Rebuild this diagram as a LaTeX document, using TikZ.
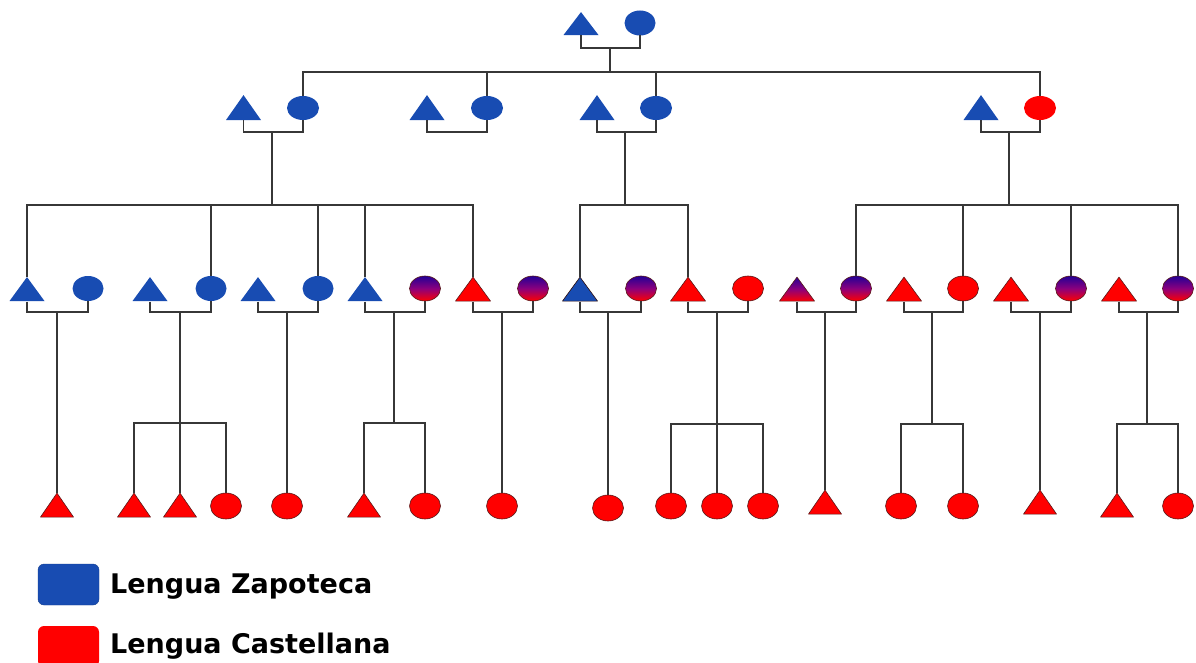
\documentclass[tikz,border=0pt]{standalone}
\usepackage{fontspec}
\newfontfamily\legendfont{DejaVu Sans}
\usetikzlibrary{shapes.geometric}
\definecolor{zblue}{RGB}{24,76,178}
\definecolor{cred}{RGB}{255,0,0}
\definecolor{edgec}{RGB}{90,25,25}
\definecolor{mtop}{RGB}{35,0,150}
\definecolor{mmid}{RGB}{140,0,125}
\definecolor{lnc}{RGB}{55,55,55}
\tikzset{
  ln/.style={draw=lnc, line width=1.3pt},
  tri/.style={minimum width=36pt, minimum height=25pt, inner sep=0pt, outer sep=0pt,
    path picture={\path[#1, line join=round]
      ([xshift=.5pt,yshift=.45pt]path picture bounding box.south west) --
      ([xshift=-.5pt,yshift=.45pt]path picture bounding box.south east) --
      ([yshift=-.6pt]path picture bounding box.north) -- cycle;}},
  bt/.style={tri=#1, minimum width=34pt, minimum height=25pt},
  cir/.style={ellipse, minimum width=31pt, minimum height=25pt, inner sep=0pt, outer sep=0pt},
  zb/.style={fill=zblue},
  zbo/.style={fill=zblue, draw=edgec!50!black, line width=.6pt},
  rd/.style={fill=cred, draw=edgec, line width=.6pt},
  mx/.style={top color=mtop, bottom color=cred, middle color=mmid, draw=edgec, line width=.6pt},
  legbox/.style={rounded corners=6pt, minimum width=61pt, minimum height=41pt, inner sep=0pt},
  legtext/.style={anchor=base west, inner sep=0pt, font=\legendfont\bfseries\fontsize{27}{31}\selectfont},
}
\begin{document}
\begin{tikzpicture}[x=1pt, y=-1pt]
\fill[white] (0,0) rectangle (1196,663);
\useasboundingbox (0,0) rectangle (1196,663);

% generation 1
\node[tri=zb, minimum height=24pt] (t0) at (581,23.5) {};
\node[cir, zb, minimum width=31pt, minimum height=25pt] (c0) at (640,23) {};

% generation 2
\node[tri=zb, minimum height=26pt] (ta) at (243.5,107.5) {};
\node[cir, zb, minimum width=32pt, minimum height=24pt] (ca) at (303,108) {};
\node[tri=zb, minimum height=26pt] (tb) at (427,107.5) {};
\node[cir, zb, minimum width=32pt, minimum height=24pt] (cb) at (487,108) {};
\node[tri=zb, minimum height=26pt] (tc) at (597,107.5) {};
\node[cir, zb, minimum width=32pt, minimum height=24pt] (cc) at (656,108) {};
\node[tri=zb, minimum height=26pt] (td) at (981,107.5) {};
\node[cir, fill=cred, minimum width=32pt, minimum height=24pt] (cd) at (1040,108) {};

% generation 3
\node[tri=zb] (t1) at (27,289) {};   \node[cir, zb] (c1) at (88,288.5) {};
\node[tri=zb] (t2) at (150,289) {};  \node[cir, zb] (c2) at (211,288.5) {};
\node[tri=zb] (t3) at (258,289) {};  \node[cir, zb] (c3) at (318,288.5) {};
\node[tri=zb] (t4) at (365,289) {};  \node[cir, mx] (c4) at (425,288.5) {};
\node[tri=rd] (t5) at (473,289) {};  \node[cir, mx] (c5) at (533,288.5) {};
\node[tri=zbo] (t6) at (580,289) {}; \node[cir, mx] (c6) at (641,288.5) {};
\node[tri=rd] (t7) at (688,289) {};  \node[cir, rd] (c7) at (748,288.5) {};
\node[tri=mx] (t8) at (797,289) {};  \node[cir, mx] (c8) at (856,288.5) {};
\node[tri=rd] (t9) at (904,289) {};  \node[cir, rd] (c9) at (963,288.5) {};
\node[tri=rd] (t10) at (1011,289) {}; \node[cir, mx] (c10) at (1071,288.5) {};
\node[tri=rd] (t11) at (1119,289) {}; \node[cir, mx] (c11) at (1178,288.5) {};

% generation 4
\tikzset{bc/.style={cir, rd, minimum width=31pt, minimum height=26pt}}
\node[bt=rd] (b1) at (57,505) {};
\node[bt=rd] (b2a) at (134,505) {};
\node[bt=rd] (b2b) at (180,505) {};
\node[bc] (b2c) at (226,506) {};
\node[bc] (b3) at (287,506) {};
\node[bt=rd] (b4a) at (364,505) {};
\node[bc] (b4b) at (425,506) {};
\node[bc] (b5) at (502,506) {};
\node[bc] (b6) at (608,508) {};
\node[bc] (b7a) at (671,506) {};
\node[bc] (b7b) at (717,506) {};
\node[bc] (b7c) at (763,506) {};
\node[bt=rd] (b8) at (825,502) {};
\node[bc] (b9a) at (901,506) {};
\node[bc] (b9b) at (963,506) {};
\node[bt=rd] (b10) at (1040,502) {};
\node[bt=rd] (b11a) at (1117,505) {};
\node[bc] (b11b) at (1178,506) {};

% connectors: generation 1 -> 2
\coordinate (m0) at (610,48);
\coordinate (s0) at (610,72);
\draw[ln] (t0.south) |- (m0) -| (c0.south);
\draw[ln] (m0) -- (s0);
\draw[ln] (ca.north) |- (s0);
\draw[ln] (cb.north) |- (s0);
\draw[ln] (cc.north) |- (s0);
\draw[ln] (cd.north) |- (s0);

% couples generation 2
\coordinate (ma) at (272,132);
\coordinate (mb) at (457,132);
\coordinate (mc) at (625,132);
\coordinate (md) at (1009,132);
\draw[ln] (ta.south) |- (ma) -| (ca.south);
\draw[ln] (tb.south) |- (mb) -| (cb.south);
\draw[ln] (tc.south) |- (mc) -| (cc.south);
\draw[ln] (td.south) |- (md) -| (cd.south);

% generation 2 -> 3
\coordinate (sa) at (272,205);
\coordinate (sc) at (625,205);
\coordinate (sd) at (1009,205);
\draw[ln] (ma) -- (sa);
\draw[ln] (mc) -- (sc);
\draw[ln] (md) -- (sd);
\draw[ln] (t1.north) |- (sa);
\draw[ln] (c2.north) |- (sa);
\draw[ln] (c3.north) |- (sa);
\draw[ln] (t4.north) |- (sa);
\draw[ln] (t5.north) |- (sa);
\draw[ln] (t6.north) |- (sc);
\draw[ln] (t7.north) |- (sc);
\draw[ln] (c8.north) |- (sd);
\draw[ln] (c9.north) |- (sd);
\draw[ln] (c10.north) |- (sd);
\draw[ln] (c11.north) |- (sd);

% couples generation 3
\coordinate (m1) at (57,312);
\coordinate (m2) at (180,312);
\coordinate (m3) at (287,312);
\coordinate (m4) at (394,312);
\coordinate (m5) at (502,312);
\coordinate (m6) at (608,312);
\coordinate (m7) at (717,312);
\coordinate (m8) at (825,312);
\coordinate (m9) at (932,312);
\coordinate (m10) at (1040,312);
\coordinate (m11) at (1147,312);
\draw[ln] (t1.south) |- (m1) -| (c1.south);
\draw[ln] (t2.south) |- (m2) -| (c2.south);
\draw[ln] (t3.south) |- (m3) -| (c3.south);
\draw[ln] (t4.south) |- (m4) -| (c4.south);
\draw[ln] (t5.south) |- (m5) -| (c5.south);
\draw[ln] (t6.south) |- (m6) -| (c6.south);
\draw[ln] (t7.south) |- (m7) -| (c7.south);
\draw[ln] (t8.south) |- (m8) -| (c8.south);
\draw[ln] (t9.south) |- (m9) -| (c9.south);
\draw[ln] (t10.south) |- (m10) -| (c10.south);
\draw[ln] (t11.south) |- (m11) -| (c11.south);

% generation 3 -> 4
\coordinate (q2) at (180,423);
\coordinate (q4) at (394,423);
\coordinate (q7) at (717,424);
\coordinate (q9) at (932,424);
\coordinate (q11) at (1147,424);
\draw[ln] (m1) -- (b1.north);
\draw[ln] (m2) -- (q2);
\draw[ln] (b2a.north) |- (q2);
\draw[ln] (b2b.north) -- (q2);
\draw[ln] (b2c.north) |- (q2);
\draw[ln] (m3) -- (b3.north);
\draw[ln] (m4) -- (q4);
\draw[ln] (b4a.north) |- (q4);
\draw[ln] (b4b.north) |- (q4);
\draw[ln] (m5) -- (b5.north);
\draw[ln] (m6) -- (b6.north);
\draw[ln] (m7) -- (q7);
\draw[ln] (b7a.north) |- (q7);
\draw[ln] (b7b.north) -- (q7);
\draw[ln] (b7c.north) |- (q7);
\draw[ln] (m8) -- (b8.north);
\draw[ln] (m9) -- (q9);
\draw[ln] (b9a.north) |- (q9);
\draw[ln] (b9b.north) |- (q9);
\draw[ln] (m10) -- (b10.north);
\draw[ln] (m11) -- (q11);
\draw[ln] (b11a.north) |- (q11);
\draw[ln] (b11b.north) |- (q11);

% legend
\node[legbox, fill=zblue, draw=zblue!80!black] (lz) at (68.5,584.5) {};
\node[legbox, fill=cred] (lc) at (68.5,646.5) {};
\node[legtext] (tz) at (110,593) {Lengua Zapoteca};
\node[legtext] (tc) at (110,653) {Lengua Castellana};
\end{tikzpicture}
\end{document}
